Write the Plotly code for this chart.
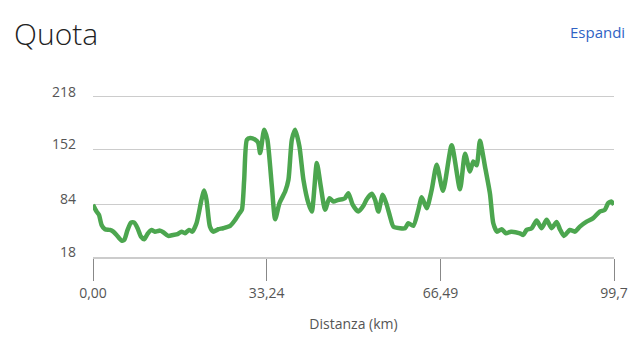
import plotly.graph_objects as go

# Data (distance km, elevation m)
distance_km = [0.0, 0.69, 1.15, 1.64, 2.29, 3.25, 3.88, 4.51, 5.47, 5.98, 6.62, 7.27, 7.90, 8.53,
               9.18, 9.81, 10.44, 11.20, 11.85, 12.81, 13.44, 14.40, 15.35, 16.18, 16.94, 17.59,
               18.36, 18.99, 19.81, 20.76, 21.28, 21.72, 22.37, 23.00, 23.96, 24.91, 26.25, 27.21,
               28.03, 28.49, 28.93, 29.45, 30.08, 31.03, 31.61, 31.99, 32.76, 33.38, 34.23, 34.86,
               35.68, 36.77, 37.40, 38.05, 38.68, 39.50, 40.27, 41.22, 41.87, 42.83, 43.59, 44.42,
               45.24, 46.00, 46.96, 47.80, 48.24, 48.87, 49.71, 50.78, 51.74, 52.39, 53.35, 53.98,
               54.61, 55.45, 56.21, 56.84, 57.48, 58.76, 59.71, 60.34, 61.30, 62.26, 62.91, 63.86,
               64.82, 65.77, 66.98, 68.64, 70.23, 71.19, 72.14, 72.77, 73.42, 74.05, 75.01, 75.97,
               76.60, 77.31, 78.20, 79.02, 79.98, 81.70, 82.33, 82.98, 83.94, 84.89, 85.85, 86.81,
               87.76, 88.72, 89.35, 90.12, 91.26, 92.22, 93.17, 94.46, 95.72, 96.97, 97.93, 98.58,
               99.23, 99.70]
elevation_m = [83, 74.6, 70.5, 58, 52.6, 51.8, 49.6, 45.5, 38.4, 39.3, 51.8, 60.9, 60.9, 53.9,
               43.4, 40.1, 46.8, 51.8, 49.6, 50.9, 48.9, 44.3, 45.5, 46.4, 49.6, 47.6,
               51.8, 49.6, 60.1, 89.3, 100.9, 89.3, 55.9, 49.6, 52.6, 53.9, 56.8, 64.3,
               72.6, 76.8, 114.3, 164.3, 166.4, 164.3, 160.5, 147.6, 176.8, 164.3, 105.9, 65.1,
               85.1, 99.6, 114.3, 164.3, 176.8, 155.9, 114.3, 85.1, 74.6, 135.1, 105.9, 76.8,
               91.4, 87.1, 89.3, 90.1, 91.4, 97.6, 83, 74.6, 81.8, 90.1, 96.8, 89.3,
               74.6, 95.5, 83, 68.4, 55.9, 53.9, 53.9, 60.1, 56.8, 76.8, 92.6, 78.9,
               101.8, 133, 100.5, 157.4, 102.4, 146.8, 124.6, 137.1, 132.4, 163, 130.9, 96.8,
               60.1, 49.6, 52.6, 47.6, 49.6, 47.6, 45.5, 51.8, 53.9, 63.4, 53.9, 64.3,
               53.9, 61.8, 52.6, 44.3, 51.8, 49.6, 55.9, 62.1, 66.4, 74.6, 76.8, 85.1,
               87.1, 83]

x_tick_vals = [0, 33.24, 66.49, 99.7]
x_tick_text = ["0,00", "33,24", "66,49", "99,7"]
y_tick_vals = [18, 84, 152, 218]
y_tick_text = ["18", "84", "152", "218"]

FONT = "Open Sans"

fig = go.Figure()
fig.add_trace(go.Scatter(
    x=distance_km, y=elevation_m, mode="lines",
    line=dict(color="#4ca64f", width=4.5, shape="spline", smoothing=0.6),
    hoverinfo="skip", showlegend=False,
))

fig.update_layout(
    width=640, height=353,
    margin=dict(l=93, r=26, t=95, b=96),
    paper_bgcolor="white", plot_bgcolor="white",
    font=dict(family=FONT, size=14, color="#555"),
    xaxis=dict(
        range=[0, 99.7], tickvals=x_tick_vals, ticktext=x_tick_text,
        showgrid=False, zeroline=False,
        showline=True, linecolor="#cccccc", linewidth=1.5,
        ticks="outside", ticklen=22, tickcolor="#888", tickwidth=1,
        tickfont=dict(family=FONT, size=14, color="#555"),
        title=dict(text="Distanza (km)", font=dict(family=FONT, size=14, color="#555"), standoff=19),
    ),
    yaxis=dict(
        range=[18, 220], tickvals=y_tick_vals, ticktext=y_tick_text,
        showgrid=True, gridcolor="#cccccc", gridwidth=1.2,
        zeroline=False, showline=False, ticks="",
        tickfont=dict(family=FONT, size=14, color="#555"),
        ticklabelstandoff=16, ticklabelshift=-5,
    ),
    annotations=[
        dict(text="Quota", xref="paper", yref="paper", x=-0.155, y=1.0, xanchor="left", yanchor="middle",
             yshift=62, showarrow=False, font=dict(family=FONT, size=30, color="#222", weight=300)),
        dict(text="Espandi", xref="paper", yref="paper", x=1.0, y=1.0, xanchor="right", yanchor="middle",
             xshift=13, yshift=63, showarrow=False, font=dict(family=FONT, size=15, color="#2f63c4")),
    ],
)

fig.write_html("out.html")
